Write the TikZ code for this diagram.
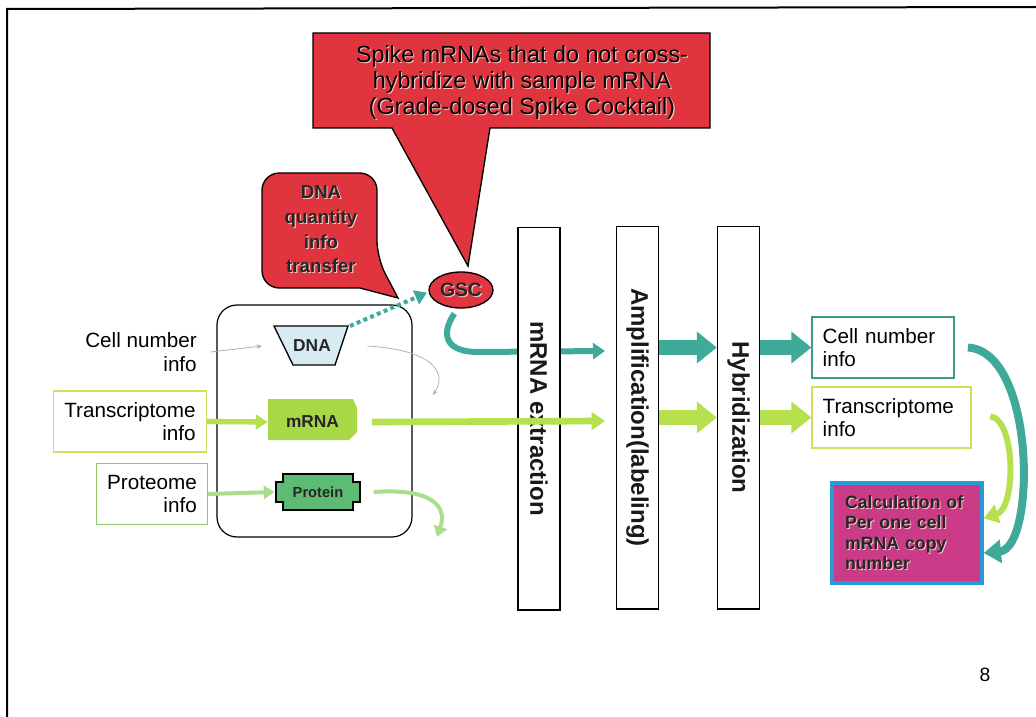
\documentclass[tikz,border=0pt]{standalone}
\usepackage{fontspec}
\setmainfont{Liberation Sans}
\usetikzlibrary{arrows.meta,shapes.geometric,calc}

\definecolor{calloutred}{HTML}{E0343E}
\definecolor{tealflow}{HTML}{3FA99A}
\definecolor{limeflow}{HTML}{B6E04E}
\definecolor{paleflow}{HTML}{A9DE8C}
\definecolor{dnafill}{HTML}{D8EBF3}
\definecolor{mrnafill}{HTML}{A8D846}
\definecolor{protfill}{HTML}{5DBB74}
\definecolor{calcfill}{HTML}{CB3B88}
\definecolor{calcedge}{HTML}{2A9AD6}
\definecolor{limeedge}{HTML}{CFE05A}
\definecolor{protedge}{HTML}{8FCB6A}
\definecolor{tealedge}{HTML}{3E9C7E}
\definecolor{embshadow}{HTML}{F4C8C8}

% light offset copy behind a word, giving the raised look of the labels
\newcommand\embtxt[1]{\makebox[0pt][l]{\hspace{0.8pt}\raisebox{-0.8pt}{\color{embshadow}#1}}#1}

\begin{document}
\begin{tikzpicture}[x=0.75pt,y=-0.75pt,
  font=\fontsize{15.5}{17.5}\selectfont,
  infobox/.style={draw, line width=0.9pt, inner xsep=8pt, minimum height=45.75pt},
  stagebox/.style={draw, line width=1pt, fill=white, minimum width=31.5pt, minimum height=287pt},
  stagetext/.style={rotate=-90, font=\bfseries\fontsize{18}{20}\selectfont, inner sep=0pt, text=black!90},
  shapetext/.style={font=\bfseries\fontsize{13}{15}\selectfont, inner sep=0pt, text=black!85},
  callout/.style={fill=calloutred, draw=black, line width=1pt},
  thinflow/.style={draw=gray!60, line width=0.6pt, -{Stealth[length=4pt,width=3.5pt]}},
  tealline/.style={draw=tealflow, line width=4.5pt, -{Triangle[length=9pt,width=12pt]}},
  limeline/.style={draw=limeflow, line width=5pt, -{Triangle[length=10pt,width=13pt]}},
  paleline/.style={draw=paleflow, line width=3pt, -{Triangle[length=8pt,width=10pt]}},
  tealblock/.style={draw=tealflow, line width=11pt, -{Triangle[length=15pt,width=23pt]}},
  limeblock/.style={draw=limeflow, line width=11pt, -{Triangle[length=15pt,width=23pt]}}
]
\useasboundingbox (0,0) rectangle (1036,717);

% slide frame
\draw[line width=1.5pt] (7,717) -- (7,9) -- (1036,7);

% callout: spike cocktail
\draw[callout] (313,33) -- (710,33) -- (710,128) -- (490,128) -- (468,266)
  -- (392,128) -- (313,128) -- cycle;
\node[align=center, font=\fontsize{17.5}{19.5}\selectfont] (spike) at (522,83)
  {\embtxt{Spike mRNAs that do not cross-}\\\embtxt{hybridize with sample mRNA}\\\embtxt{(Grade-dosed Spike Cocktail)}};

% callout: DNA quantity
\draw[callout, rounded corners=13pt] (320,173) -- (377,173) -- (377,258)
  [sharp corners] -- (398,298) -- (360,288) [rounded corners=13pt] -- (262,288)
  -- (262,173) -- (320,173);
\node[align=center, font=\bfseries\fontsize{14}{18.5}\selectfont, text=black!85] (dnaq) at (321,230)
  {\embtxt{DNA}\\\embtxt{quantity}\\\embtxt{info}\\\embtxt{transfer}};

% GSC
\node[ellipse, callout, minimum width=48pt, minimum height=27pt, inner sep=0pt,
  font=\bfseries\fontsize{14.5}{16}\selectfont, text=black!85] (gsc) at (461,290) {\embtxt{GSC}};

% cell
\node[draw, line width=0.9pt, rounded corners=15pt, minimum width=146.25pt, minimum height=174pt] (cell) at (314.5,421) {};

% DNA
\fill[dnafill, draw=black, line width=1pt] (274,326) -- (348,326) -- (335,365) -- (293,365) -- cycle;
\coordinate (dnaTR) at (350,326);
\node[shapetext, minimum width=46.5pt, minimum height=27pt] (dna) at (312,346) {DNA};

% mRNA
\fill[mrnafill] (268,399) -- (353,399) -- (357,408) -- (357,432) -- (349,440) -- (268,440) -- cycle;
\node[shapetext, minimum width=66.75pt, minimum height=30.75pt] (mrna) at (312.5,422) {mRNA};

% Protein
\fill[protfill, draw=black, line width=1pt] (276,482) -- (283,482) -- (283,474) -- (353,474) -- (353,482)
  -- (360,482) -- (360,502) -- (353,502) -- (353,510) -- (283,510) -- (283,502) -- (276,502) -- cycle;
\node[shapetext, font=\bfseries\fontsize{11}{13}\selectfont, minimum width=63pt, minimum height=27pt] (protein) at (318,492) {Protein};

% left labels
\node[align=right, anchor=east, inner sep=0pt] (lcell) at (197,352) {Cell number\\info};
\node[infobox, draw=limeedge, align=right] (ltr) at (130,421.5) {Transcriptome\\info};
\node[infobox, draw=protedge, align=right] (lpr) at (152,494) {Proteome\\info};

% inputs into the cell
\draw[thinflow] ([xshift=10pt]lcell.east) -- ([xshift=-14pt]dna.west);
\draw[limeline, line width=4pt, -{Triangle[length=9pt,width=11pt]}] (ltr.east) -- (mrna.west);
\draw[paleline] (lpr.east) -- ([xshift=-1pt]protein.west);

% outputs of the cell
\draw[thinflow] ([xshift=18pt]dna.east) .. controls (432,350) and (448,372) .. (433,395);
\draw[paleline] ([xshift=10pt]protein.east) .. controls (430,488) and (448,505) .. (437,537);

% spike transfer from the DNA side to GSC
\draw[draw=tealflow, line width=3pt, dash pattern=on 3pt off 2.5pt,
  -{Triangle[length=9pt,width=11pt]}] (dnaTR) -- ([shift={(-1pt,-2pt)}]gsc.west);

% stages
\coordinate (gscEnd) at (605,351);
\draw[tealline] ([yshift=-4pt]gsc.250) .. controls (440,335) and (446,352) .. (478,352) -- (gscEnd);
\node[stagebox] (ext) at (539,418.5) {};
\node[stagetext] (extt) at (ext) {mRNA extraction};
\node[stagebox] (amp) at (637.5,417.5) {};
\node[stagetext] (ampt) at (amp) {Amplification(labeling)};
\node[stagebox] (hyb) at (738.5,417.5) {};
\node[stagetext] (hybt) at (hyb) {Hybridization};
\coordinate (mrnaEnd) at (605,421);
\draw[limeline] ([xshift=11pt]mrna.east) -- (mrnaEnd);

% right side results
\node[infobox, draw=tealedge, text width=90.5pt, align=left] (cnr) at (883,347.5) {Cell number\\info};
\node[infobox, draw=limeedge, text width=103.25pt, align=left] (trr) at (891.5,417.5) {Transcriptome\\info};
\node[draw=calcedge, line width=2.5pt, fill=calcfill, minimum height=75pt, inner xsep=9.75pt,
  text width=93pt, align=left, text=black!85, font=\bfseries\fontsize{13.3}{15.4}\selectfont] (calc) at (907,533)
  {\embtxt{Calculation of}\\\embtxt{Per one cell}\\\embtxt{mRNA copy}\\\embtxt{number}};

% block arrows between stages
\draw[tealblock] (amp.east |- cnr.west) -- (hyb.west |- cnr.west);
\draw[limeblock] (amp.east |- trr.west) -- (hyb.west |- trr.west);
\draw[tealblock] (hyb.east |- cnr.west) -- (cnr.west);
\draw[limeblock] (hyb.east |- trr.west) -- (trr.west);

% into the calculation
\draw[tealline, line width=6pt, -{Triangle[length=13pt,width=17pt]}]
  ([xshift=10pt]cnr.east) .. controls (1036,352) and (1036,548) .. ([yshift=-15pt]calc.east);
\draw[limeline, line width=4.5pt, -{Triangle[length=11pt,width=14pt]}]
  ([xshift=14pt,yshift=1pt]trr.east) .. controls (1016,420) and (1016,508) .. ([yshift=11pt]calc.east);

% page number
\node[font=\fontsize{14.5}{16}\selectfont] (pg) at (985,675) {8};
\end{tikzpicture}
\end{document}
